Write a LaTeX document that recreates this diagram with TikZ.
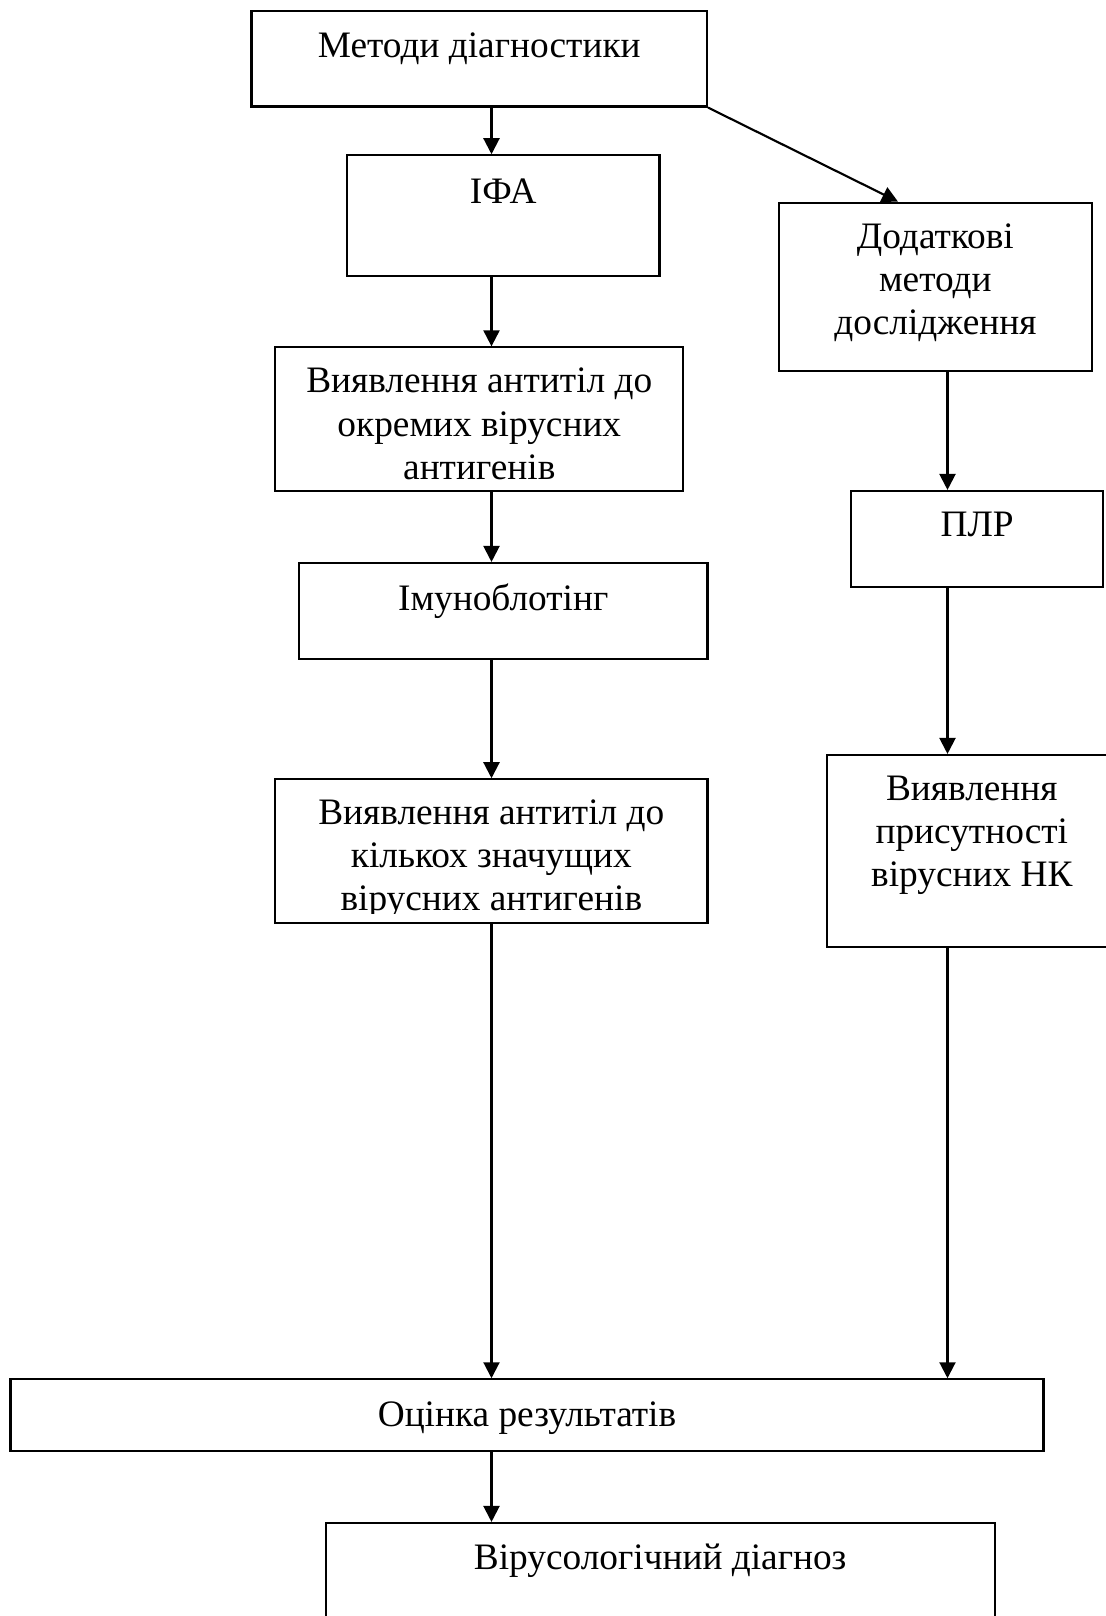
\documentclass[tikz,border=0pt]{standalone}
\usepackage{fontspec}
\setmainfont{Liberation Serif}
\usetikzlibrary{positioning, arrows.meta}

\begin{document}
\begin{tikzpicture}[x=0.375pt, y=-0.375pt, >={Triangle[length=6pt, width=6pt]},
    box/.style 2 args={draw, line width=0.8pt, inner sep=0pt,
        minimum width=#1*0.375pt, minimum height=#2*0.375pt},
    boxtext/.style={align=center, inner sep=0pt,
        font=\fontsize{14}{16.2}\selectfont},
    link/.style={->, line width=0.8pt}]
    % Page
    \useasboundingbox (0, 0) rectangle (1105, 1616);

    % Left column
    \node[box={455.5}{95.8}] (methods) at (479.25, 58.6) {};
    \node[box={312.5}{121}] (ifa) at (503.25, 215.8) {};
    \node[box={408.2}{143.3}] (single) at (479.3, 419.05) {};
    \node[box={408.6}{96}] (blot) at (503.2, 611) {};
    \node[box={432.3}{143.7}] (several) at (491.35, 851.15) {};

    % Right column
    \node[box={312.7}{168}] (extra) at (935.35, 286.7) {};
    \node[box={252.3}{95.7}] (pcr) at (977.15, 538.85) {};
    \node[box={290.3}{191.7}] (nk) at (971.85, 850.85) {};

    % Bottom
    \node[box={1033}{71.7}] (result) at (527, 1415.15) {};
    \node[box={669}{127}] (diagnosis) at (660.2, 1586.5) {};

    % Texts
    \node[boxtext, below=8.3pt of methods.north] (methods-t) {Методи діагностики};
    \node[boxtext, below=8.9pt of ifa.north] (ifa-t) {ІФА};
    \node[boxtext, below=8pt of single.north] (single-t) {Виявлення антитіл до\\окремих вірусних\\антигенів};
    \node[boxtext, below=7.8pt of blot.north] (blot-t) {Імуноблотінг};
    \begin{scope}
        \clip (several.north west) rectangle ([yshift=3.8pt]several.south east);
        \node[boxtext, below=7.8pt of several.north] (several-t) {Виявлення антитіл до\\кількох значущих\\вірусних антигенів};
    \end{scope}
    \node[boxtext, below=8pt of extra.north] (extra-t) {Додаткові\\методи\\дослідження};
    \node[boxtext, below=8pt of pcr.north] (pcr-t) {ПЛР};
    \node[boxtext, below=8.1pt of nk.north] (nk-t) {Виявлення\\присутності\\вірусних НК};
    \node[boxtext, below=8.5pt of result.north] (result-t) {Оцінка результатів};
    \node[boxtext, below=8.1pt of diagnosis.north] (diagnosis-t) {Вірусологічний діагноз};

    % Arrows
    \coordinate (leftcol) at (491.5, 0);
    \coordinate (rightcol) at (947.5, 0);
    \coordinate (extratip) at (898, 0);
    \foreach \a/\b in {methods/ifa, ifa/single, single/blot, blot/several, several/result, result/diagnosis} {
        \draw[link] (\a.south -| leftcol) -- (\b.north -| leftcol);
    }
    \foreach \a/\b in {extra/pcr, pcr/nk, nk/result} {
        \draw[link] (\a.south -| rightcol) -- (\b.north -| rightcol);
    }
    \draw[link] (methods.south east) -- (extra.north -| extratip);
\end{tikzpicture}
\end{document}
